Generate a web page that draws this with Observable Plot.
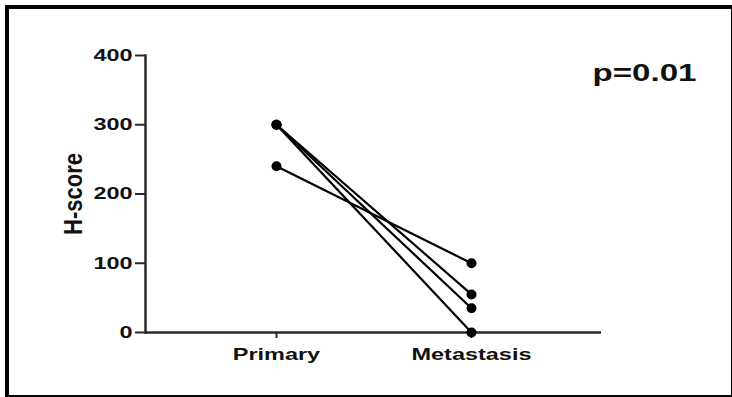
<!DOCTYPE html>
<html>
<head>
<meta charset="utf-8">
<script src="https://cdn.jsdelivr.net/npm/d3@7"></script>
<script src="https://cdn.jsdelivr.net/npm/@observablehq/plot@0.6"></script>
<style>
  html, body { margin: 0; padding: 0; background: #fff; }
  #wrap { position: relative; width: 732px; height: 397px; overflow: hidden; }
  #wrap svg { position: absolute; left: 0; top: 0; }
  #border { position: absolute; left: 5px; top: 5px; width: 722px; height: 386px;
            border-left: 4px solid #000; border-top: 4px solid #000;
            border-right: 3px solid #000; border-bottom: 3px solid #000; pointer-events: none; }
</style>
</head>
<body>
<div id="wrap"><div id="border"></div></div>
<script>
// Data
const groups = ["Primary", "Metastasis"];
const primaryScores = [300, 300, 300, 240];
const metastasisScores = [0, 35, 55, 100];
const yTicks = [0, 100, 200, 300, 400];
const yLabel = "H-score";
const pText = "p=0.01";

const rows = [];
primaryScores.forEach((v, i) => {
  rows.push({id: i, group: groups[0], score: v});
  rows.push({id: i, group: groups[1], score: metastasisScores[i]});
});

const font = "'Liberation Sans', Arial, sans-serif";

const chart = Plot.plot({
  width: 732,
  height: 397,
  marginLeft: 145,
  marginRight: 131,
  marginTop: 55,
  marginBottom: 65,
  style: {fontFamily: font, background: "transparent", color: "#111"},
  x: {type: "point", domain: groups, padding: 0.667, axis: null},
  y: {domain: [0, 400], axis: null},
  marks: [
    Plot.ruleY([0], {stroke: "#2a2a2a", strokeWidth: 2.5}),
    Plot.frame({anchor: "left", stroke: "#2a2a2a", strokeWidth: 2.5}),
    Plot.axisY({ticks: yTicks, tickSize: 10, tickPadding: 3, fontSize: 17, fontWeight: "bold",
                stroke: "#2a2a2a", strokeWidth: 2, label: null}),
    Plot.axisX({tickSize: 6, tickPadding: 9, fontSize: 17, fontWeight: "bold",
                stroke: "#2a2a2a", strokeWidth: 2, label: null}),
    Plot.text([yLabel], {frameAnchor: "left", textAnchor: "middle", dx: -72, dy: 0, rotate: -90, fontSize: 22,
                fontWeight: "bold", fill: "#111", text: d => d}),
    Plot.text([pText], {frameAnchor: "top-right", dx: 95, dy: 8, textAnchor: "end", lineAnchor: "top",
                fontSize: 24, fontWeight: "bold", fill: "#111", text: d => d}),
    Plot.line(rows, {x: "group", y: "score", z: "id", stroke: "#000", strokeWidth: 2.2}),
    Plot.dot(rows, {x: "group", y: "score", r: 5, fill: "#000", stroke: "none"})
  ]
});

// horizontal stretch of the glyphs, as in the reference picture
chart.querySelectorAll("text").forEach(t => {
  const tr = t.getAttribute("transform") || "";
  if (tr.includes("rotate")) {
    t.setAttribute("transform", tr.replace("rotate", "scale(1.15,1) rotate"));
  } else {
    t.setAttribute("transform", tr + " scale(1.38,1)");
  }
});

document.getElementById("wrap").insertBefore(chart, document.getElementById("border"));
</script>
</body>
</html>
